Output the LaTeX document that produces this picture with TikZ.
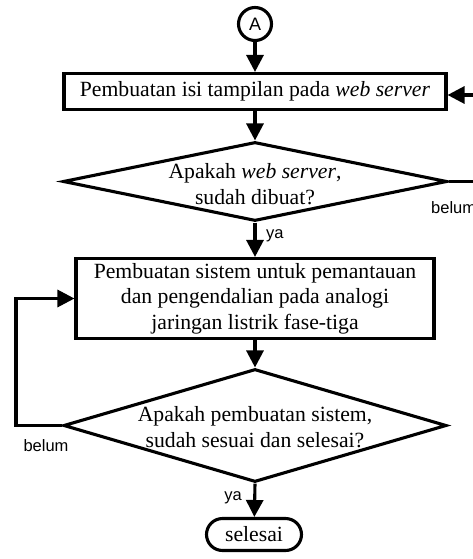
\documentclass[tikz,border=0pt]{standalone}
\usepackage{fontspec}
\setmainfont{Liberation Serif}
\newfontfamily\labfont{Liberation Sans}
\usetikzlibrary{shapes.geometric,arrows.meta}
\begin{document}
\begin{tikzpicture}[x=1pt,y=-1pt,
  every node/.style={font=\fontsize{21.7}{25.5}\selectfont},
  line/.style={line width=3.1pt},
  flow/.style={line, -{Triangle[length=17pt,width=17pt]}},
  procbox/.style={draw, line width=3.1pt, rectangle, inner sep=0pt, align=center},
  decbox/.style={draw, line width=3.1pt, diamond, inner sep=0pt},
  qtext/.style={align=center, inner sep=0pt},
  term/.style={draw, line width=3.1pt, rectangle, rounded corners=16pt, inner sep=0pt},
  conn/.style={draw, line width=3.1pt, circle, inner sep=0pt, minimum size=33pt,
    font=\labfont\fontsize{18}{20}\selectfont},
  lab/.style={inner sep=0pt, font=\labfont\fontsize{16.5}{18}\selectfont}]
\useasboundingbox (0,0) rectangle (473,559);
\clip (0,0) rectangle (473,559);

% nodes
\node[conn] (A) at (255,24) {A};
\node[procbox, minimum width=382pt, minimum height=36pt] (b1) at (255,91.5)
  {Pembuatan isi tampilan pada \textit{web server}};
\node[decbox, minimum width=384pt, minimum height=79pt] (d1) at (255,181.5) {};
\node[qtext] (d1t) at (255,184) {Apakah \textit{web server},\\sudah dibuat?};
\node[procbox, minimum width=358pt, minimum height=80pt] (b2) at (255,298.5)
  {Pembuatan sistem untuk pemantauan\\dan pengendalian pada analogi\\jaringan listrik fase-tiga};
\node[decbox, minimum width=383pt, minimum height=113pt] (d2) at (255,425.5) {};
\node[qtext] (d2t) at (255,427) {Apakah pembuatan sistem,\\sudah sesuai dan selesai?};
\node[term, minimum width=95pt, minimum height=32pt] (end) at (254,534.5) {selesai};

% loop coordinates
\coordinate (r1) at (495,181.5);
\coordinate (r2) at (495,95);
\coordinate (l1) at (16,298.5);

% connectors
\draw[flow] (A) -- (b1);
\draw[flow] (b1) -- (d1.north);
\draw[flow] (d1.south) -- (b2);
\draw[line] (d1.east) -- (r1) -- (r2);
\draw[flow] (r2) -- (r2 -| b1.east);
\draw[flow] (b2) -- (d2.north);
\draw[flow] (d2.west) -| (l1) -- (b2.west);
\draw[flow] (d2.south) -- (end);

% labels
\node[lab, anchor=west] (ya1) at (266,236) {ya};
\node[lab, anchor=west] (bl1) at (431,208) {belum};
\node[lab] (bl2) at (46,446) {belum};
\node[lab, anchor=east] (ya2) at (242,498) {ya};
\end{tikzpicture}
\end{document}
